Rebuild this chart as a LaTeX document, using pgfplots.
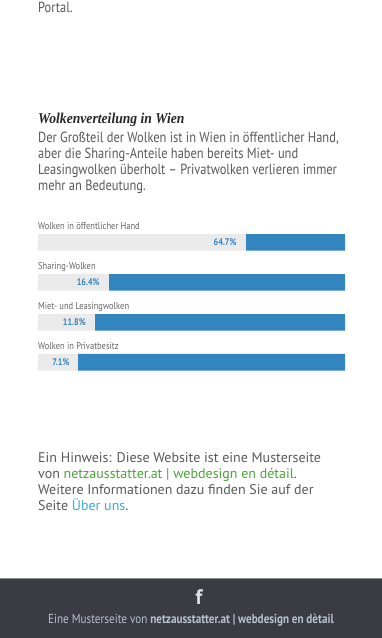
\documentclass[border=0pt]{standalone}
\usepackage{pgfplots}
\pgfplotsset{compat=1.18}
\usepackage{fontspec}
\setmainfont{PT Sans}
\newfontfamily\narrow[FakeStretch=0.85]{PT Sans}
\newfontfamily\lobster[FakeStretch=0.91]{Liberation Serif}
\definecolor{txt}{HTML}{666666}
\definecolor{body}{HTML}{5A5A5A}
\definecolor{barb}{HTML}{3385C0}
\definecolor{track}{HTML}{EAEAEA}
\definecolor{grn}{HTML}{4BA53A}
\definecolor{lnk}{HTML}{3BA9E2}
\definecolor{foot}{HTML}{3B3B44}
\definecolor{foottxt}{HTML}{B5C2CC}
\newcommand\T[3]{\node[anchor=base west,inner sep=0pt] at (#1,{638-#2}) {#3};}
\newcommand\catlab[2]{\node[anchor=base west,inner sep=0pt] at (axis cs:0,#1) {\narrow\fontsize{10}{12}\selectfont\color{txt}#2};}
\newcommand\vallab[3]{\node[anchor=base east,inner sep=0pt] at (axis cs:#1,#2) {\narrow\bfseries\fontsize{9.6}{12}\selectfont\color{barb}#3};}
\begin{document}
\begin{tikzpicture}[x=1pt,y=1pt]
\path[use as bounding box] (0,0) rectangle (382,638);
\fill[white] (0,0) rectangle (382,638);
\T{38}{12.5}{\narrow\fontsize{14.65}{16}\selectfont\color{body}Portal.}
\T{38}{124}{\lobster\bfseries\itshape\fontsize{15}{16}\selectfont\color{black!85}Wolkenverteilung in Wien}
\T{38}{143}{\narrow\fontsize{14.65}{16}\selectfont\color{body}Der Großteil der Wolken ist in Wien in öffentlicher Hand,}
\T{38}{159}{\narrow\fontsize{14.65}{16}\selectfont\color{body}aber die Sharing-Anteile haben bereits Miet- und}
\T{38}{175}{\narrow\fontsize{14.65}{16}\selectfont\color{body}Leasingwolken überholt – Privatwolken verlieren immer}
\T{38}{191}{\narrow\fontsize{14.65}{16}\selectfont\color{body}mehr an Bedeutung.}
\begin{axis}[
  at={(38pt,255.75pt)},anchor=south west,
  scale only axis,width=307pt,height=160pt,
  xmin=0,xmax=100,ymin=-0.5,ymax=3.5,y dir=reverse,
  axis lines=none,
  xbar stacked,bar width=16.5pt,
  clip=false,
  after end axis/.code={
    \vallab{64.7}{0.09}{64.7\%}
    \vallab{20.1}{1.09}{16.4\%}
    \vallab{15.6}{2.09}{11.8\%}
    \vallab{10.3}{3.09}{7.1\%}
  },
]
\addplot[draw=none,fill=track] coordinates {(67.7,0) (23.1,1) (18.5,2) (13.0,3)};
\addplot[draw=none,fill=barb] coordinates {(32.3,0) (76.9,1) (81.5,2) (87.0,3)};
\catlab{-0.33}{Wolken in öffentlicher Hand}
\catlab{0.67}{Sharing-Wolken}
\catlab{1.67}{Miet- und Leasingwolken}
\catlab{2.67}{Wolken in Privatbesitz}
\end{axis}
\T{38}{463}{\fontsize{14}{16}\selectfont\color{body}Ein Hinweis: Diese Website ist eine Musterseite}
\T{38}{479}{\fontsize{14}{16}\selectfont\color{body}von {\color{grn}netzausstatter.at | webdesign en détail}.}
\T{38}{495}{\fontsize{14}{16}\selectfont\color{body}Weitere Informationen dazu finden Sie auf der}
\T{38}{511}{\fontsize{14}{16}\selectfont\color{body}Seite {\color{lnk}Über uns}.}
\fill[foot] (0,0) rectangle (382,60);
\fill[black!45] (0,59.5) rectangle (382,60);
\node[anchor=base,inner sep=0pt] at (199,{638-605}) {\fontsize{21}{22}\selectfont\bfseries\color{white!85!foot}f};
\node[anchor=base,inner sep=0pt] at (191,{638-623}) {\narrow\fontsize{13.1}{14}\selectfont\color{foottxt}Eine Musterseite von {\bfseries netzausstatter.at | webdesign en dètail}};
\end{tikzpicture}
\end{document}
